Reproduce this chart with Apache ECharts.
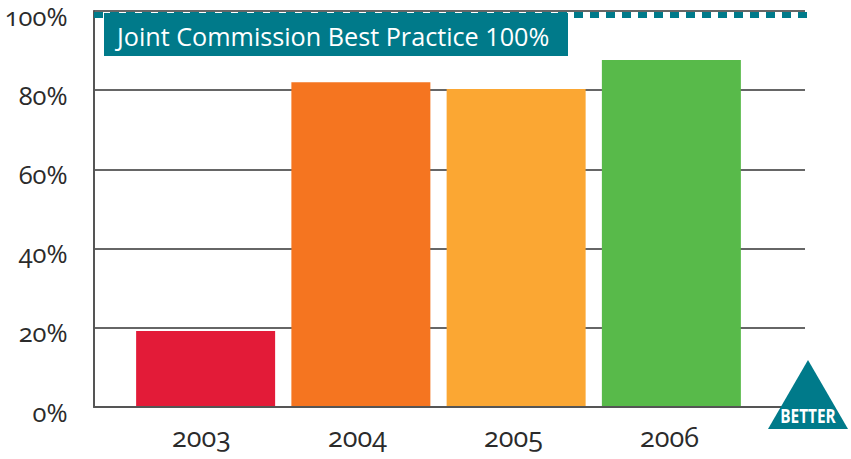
<!DOCTYPE html>
<html><head><meta charset="utf-8">
<style>
html,body{margin:0;padding:0;background:#fff}
#c{width:851px;height:459px}
text{font-feature-settings:"onum" 1,"lnum" 0;font-variant-numeric:oldstyle-nums}
</style>
<script src="https://cdn.jsdelivr.net/npm/echarts@6/dist/echarts.min.js"></script>
</head><body><div id="c"></div>
<script>
const years = ['2003','2004','2005','2006'];
const values = [19.2, 82, 80.3, 87.6];
const barColors = ['#E31B38','#F57520','#FBA733','#58BA4A'];
const yTicks = [0,20,40,60,80,100];
const benchmark = 100;
const benchmarkLabel = 'Joint Commission Best Practice 100%';
const betterLabel = 'BETTER';
const FONT = '"Open Sans", Lato, sans-serif';
const chart = echarts.init(document.getElementById('c'), null, {renderer:'svg'});
const gridBase = {outerBoundsMode:'none',containLabel:false};
chart.setOption({
  animation:false,
  backgroundColor:'#fff',
  grid:[
    {...gridBase,left:93.5,top:11,width:711.5,height:396},
    {...gridBase,left:128,top:11,width:621,height:396},
    {...gridBase,left:94,top:15,width:713,height:396},
    {...gridBase,left:93.5,top:15.5,width:711.5,height:396},
    {...gridBase,left:123.5,top:11,width:624,height:396}
  ],
  xAxis:[
    {gridIndex:0,type:'value',min:0,max:1,show:false},
    {gridIndex:1,type:'category',data:years,show:false},
    {gridIndex:2,type:'value',min:0,max:1,show:false},
    {gridIndex:3,type:'value',min:0,max:1,show:false},
    {gridIndex:4,type:'category',data:years,
      axisLine:{show:false},axisTick:{show:false},
      axisLabel:{color:'#2b2b2b',fontFamily:FONT,fontSize:27,margin:16}}
  ],
  yAxis:[
    {gridIndex:0,type:'value',min:0,max:100,interval:20,
      axisLine:{show:true,lineStyle:{color:'#555',width:2}},axisTick:{show:false},
      splitLine:{show:true,lineStyle:{color:'#333',width:1.5}},
      axisLabel:{show:false}},
    {gridIndex:1,type:'value',min:0,max:100,show:false},
    {gridIndex:2,type:'value',min:0,max:100,show:false},
    {gridIndex:3,type:'value',min:0,max:100,interval:20,
      axisLine:{show:false},axisTick:{show:false},splitLine:{show:false},
      axisLabel:{color:'#2b2b2b',fontFamily:FONT,fontSize:25.5,margin:26,
        formatter:v=>yTicks.includes(v)?v+'%':''}},
    {gridIndex:4,type:'value',min:0,max:100,show:false}
  ],
  series:[
    {type:'line',xAxisIndex:0,yAxisIndex:0,data:[],silent:true,
      markLine:{silent:true,symbol:'none',label:{show:false},
        lineStyle:{color:'#555',width:2,type:'solid'},
        data:[{yAxis:0}]},z:1},
    {type:'bar',xAxisIndex:1,yAxisIndex:1,barWidth:139,z:3,
      data:values.map((v,i)=>({value:v,itemStyle:{color:barColors[i]}}))},
    {type:'line',xAxisIndex:2,yAxisIndex:2,symbol:'none',z:4,silent:true,
      data:[[0,benchmark],[1,benchmark]],
      lineStyle:{color:'#007A8A',width:6,type:[9,7],cap:'butt'}},
    {type:'line',xAxisIndex:3,yAxisIndex:3,data:[],silent:true},
    {type:'line',xAxisIndex:4,yAxisIndex:4,data:[],silent:true}
  ],
  graphic:[
    {type:'rect',z:10,shape:{x:104,y:13,width:464,height:43},style:{fill:'#007A8A'}},
    {type:'text',z:11,x:117,y:36,style:{text:benchmarkLabel,fill:'#fff',font:'25.2px '+FONT,verticalAlign:'middle'}},
    {type:'polygon',z:10,shape:{points:[[808,360],[768,429],[848,429]]},style:{fill:'#007A8A'}},
    {type:'text',z:11,x:808,y:416,scaleX:0.81,style:{text:betterLabel,fill:'#fff',font:'bold 19px "Liberation Sans Narrow", '+FONT,align:'center',verticalAlign:'middle'}}
  ]
});
</script></body></html>
